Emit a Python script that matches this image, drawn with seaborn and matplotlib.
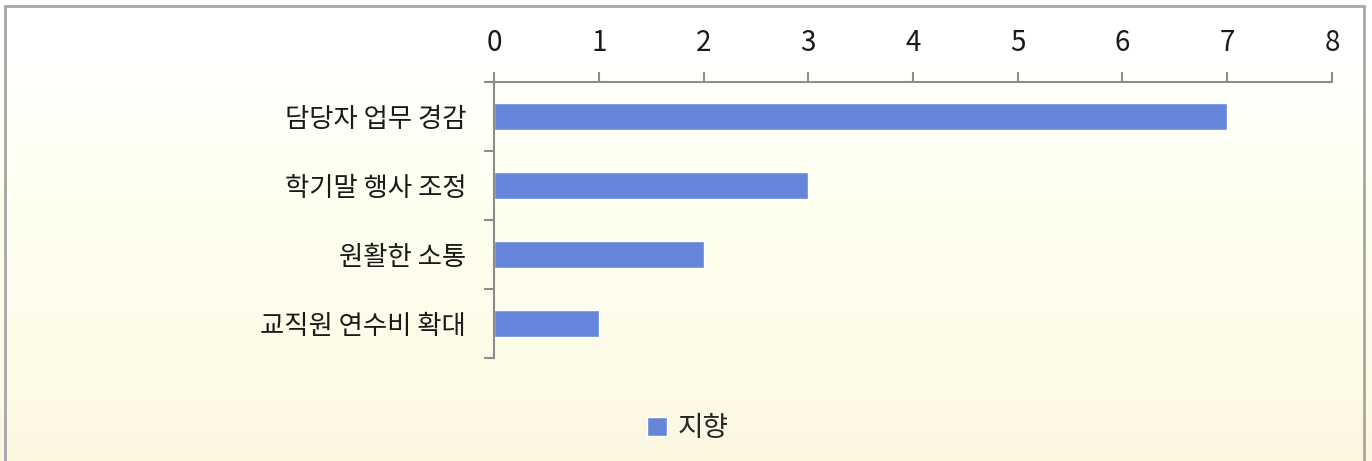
import numpy as np
import pandas as pd
import matplotlib
matplotlib.use("Agg")
import matplotlib.pyplot as plt
from matplotlib.patches import Rectangle
import seaborn as sns

categories = ["담당자 업무 경감", "학기말 행사 조정", "원활한 소통", "교직원 연수비 확대"]
values = [7, 3, 2, 1]
series_name = "지향"
xticks = [0, 1, 2, 3, 4, 5, 6, 7, 8]

sns.set_theme(style="white")
plt.rcParams["font.family"] = ["Noto Sans CJK KR", "DejaVu Sans"]

W, H = 1372, 461
fig = plt.figure(figsize=(W / 100, H / 100), dpi=100)

# background gradient (top -> bottom)
bg = fig.add_axes([0, 0, 1, 1], zorder=-10)
stops = np.array([0.0, 0.15, 0.45, 0.85, 1.0])
cols = np.array([[255, 255, 255], [255, 255, 253], [255, 255, 240],
                 [254, 251, 230], [252, 246, 225]]) / 255.0
yy = np.linspace(0, 1, 461)
grad = np.stack([np.interp(yy, stops, cols[:, k]) for k in range(3)], axis=1)
img = np.repeat(grad[:, None, :], 2, axis=1)
bg.imshow(img, aspect="auto", extent=[0, 1, 0, 1], origin="upper")
bg.set_axis_off()

# border
fig.patches.append(Rectangle((5 / W, -0.05), (1364 - 5) / W, (1 - 6 / H) + 0.05,
                             transform=fig.transFigure, fill=False,
                             edgecolor="#a6a6a6", linewidth=2, zorder=-5))

left, right = 494 / W, 1332 / W
ytop, ybot = 1 - 82 / H, 1 - 358 / H
ax = fig.add_axes([left, ybot, right - left, ytop - ybot])
ax.set_facecolor("none")

df = pd.DataFrame({"cat": categories, "val": values, "series": series_name})
sns.barplot(data=df, x="val", y="cat", hue="series", orient="h",
            palette=["#6586db"], saturation=1, width=0.4, ax=ax, legend=True)

ax.set_xlim(0, 8)
ax.set_ylim(len(categories) - 0.5, -0.5)
ax.set_xticks(xticks)
ax.xaxis.tick_top()
ax.set_xlabel("")
ax.set_ylabel("")

for s in ["right", "bottom"]:
    ax.spines[s].set_visible(False)
for s in ["top", "left"]:
    ax.spines[s].set_color("#8c8c8c")
    ax.spines[s].set_linewidth(1.5)

ax.tick_params(axis="x", which="major", direction="out", length=7, width=1.5,
               color="#8c8c8c", pad=10, labelsize=20, labelcolor="#1a1a1a",
               top=True, bottom=False, labeltop=True, labelbottom=False)
ax.set_yticks(np.arange(len(categories)))
ax.set_yticklabels(categories)
ax.tick_params(axis="y", which="major", length=0, pad=20, labelsize=19,
               labelcolor="#1a1a1a")
ax.set_yticks(np.arange(len(categories) + 1) - 0.5, minor=True)
ax.tick_params(axis="y", which="minor", direction="out", length=7, width=1.5,
               color="#8c8c8c", left=True)

leg = ax.legend(loc="center", bbox_to_anchor=((688 - 494) / (1332 - 494), (1 - 428 / H - ybot) / (ytop - ybot)),
                bbox_transform=ax.transAxes, frameon=False, fontsize=20,
                handlelength=0.7, handleheight=0.7, handletextpad=0.4)

fig.savefig("out.png", dpi=100)
